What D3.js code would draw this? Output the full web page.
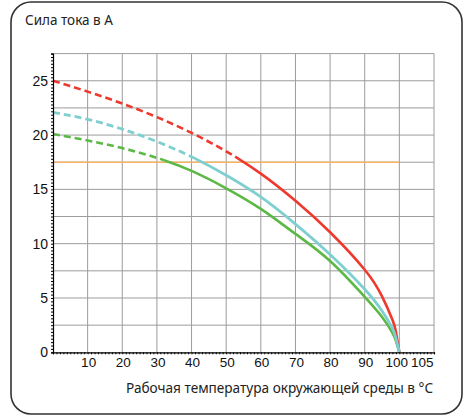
<!DOCTYPE html>
<html><head><meta charset="utf-8">
<script src="https://cdn.jsdelivr.net/npm/d3@7"></script>
<style>
html,body{margin:0;padding:0;background:#fff;}
svg{display:block;}
</style></head>
<body>
<svg id="chart" width="466" height="417"></svg>
<script>
// ---- data ----
const temps   = [0, 10, 20, 30, 40, 50, 60, 70, 80, 90, 95, 98, 99, 100];
const red     = [25, 24.0, 22.9, 21.65, 20.2, 18.5, 16.45, 13.95, 11.05, 7.6, 5.15, 3.0, 1.9, 0];
const cyan    = [22.1, 21.45, 20.55, 19.4, 18.0, 16.3, 14.3, 11.8, 9.0, 5.8, 3.8, 2.2, 1.3, 0];
const green   = [20.1, 19.5, 18.8, 17.9, 16.7, 15.1, 13.2, 10.9, 8.4, 5.1, 3.25, 1.8, 1.05, 0];
const limit   = 17.5;           // horizontal limit line
const limitEnd = 100;
const crossT  = {red: 54, cyan: 41, green: 32};   // where dashed changes to solid
const xTickLabels = [10, 20, 30, 40, 50, 60, 70, 80, 90, 100, 105];
const yTickLabels = [0, 5, 10, 15, 20, 25];
const title  = "Сила тока в А";
const xTitle = "Рабочая температура окружающей среды в °C";

const svg = d3.select("#chart");
const x = d3.scaleLinear().domain([0, 110]).range([53, 434]);
const y = d3.scaleLinear().domain([0, 27.5]).range([352.3, 53.6]);

// frame
svg.append("rect").attr("x", 11).attr("y", 2).attr("width", 451).attr("height", 412)
  .attr("rx", 20).attr("ry", 20).attr("fill", "#fff").attr("stroke", "#333").attr("stroke-width", 1.6);

svg.append("text").attr("x", 25).attr("y", 25).text(title)
  .attr("font-family", "'Noto Sans', sans-serif").attr("font-size", 13.5).attr("fill", "#222");

// grid
const g = svg.append("g");
const vGrid = d3.range(10, 111, 10);
const hGrid = d3.range(2.5, 27.6, 2.5);
g.selectAll("line.v").data(vGrid).join("line")
  .attr("x1", d => x(d)).attr("x2", d => x(d)).attr("y1", y(0)).attr("y2", y(27.5))
  .attr("stroke", "#9c9c9c").attr("stroke-width", 1);
g.selectAll("line.h").data(hGrid).join("line")
  .attr("x1", x(0)).attr("x2", x(110)).attr("y1", d => y(d)).attr("y2", d => y(d))
  .attr("stroke", "#9c9c9c").attr("stroke-width", 1);

// limit line
svg.append("line").attr("x1", x(0)).attr("x2", x(limitEnd)).attr("y1", y(limit)).attr("y2", y(limit))
  .attr("stroke", "#f6b266").attr("stroke-width", 1.6);

// curves: one smooth path, shown dashed left of the crossing and solid right of it (via clips)
const defs = svg.append("defs");
const line = d3.line().x(d => x(d[0])).y(d => y(d[1])).curve(d3.curveNatural);
function drawSeries(name, vals, ct, color, w) {
  const pts = temps.map((t, i) => [t, vals[i]]);
  defs.append("clipPath").attr("id", "cl-" + name).append("rect")
    .attr("x", 0).attr("y", 0).attr("width", x(ct)).attr("height", 417);
  defs.append("clipPath").attr("id", "cr-" + name).append("rect")
    .attr("x", x(ct)).attr("y", 0).attr("width", 466).attr("height", 417);
  const d = line(pts);
  svg.append("path").attr("d", d).attr("fill", "none").attr("stroke", color)
    .attr("stroke-width", w).attr("stroke-dasharray", "7,4").attr("clip-path", `url(#cl-${name})`);
  svg.append("path").attr("d", d).attr("fill", "none").attr("stroke", color)
    .attr("stroke-width", w).attr("clip-path", `url(#cr-${name})`);
}
drawSeries("red", red, crossT.red, "#ee3a2e", 2.6);
drawSeries("green", green, crossT.green, "#5cb946", 2.6);
drawSeries("cyan", cyan, crossT.cyan, "#7fcfd0", 2.8);

// axes
const xMinor = d3.axisBottom(x).tickValues(d3.range(0, 111, 1)).tickSize(2).tickFormat("");
const yMinor = d3.axisLeft(y).tickValues(d3.range(0, 27.51, 0.3125)).tickSize(2).tickFormat("");
const ax = svg.append("g").attr("transform", `translate(0,${y(0)})`).call(xMinor);
const ay = svg.append("g").attr("transform", `translate(${x(0)},0)`).call(yMinor);
[ax, ay].forEach(a => { a.select(".domain").attr("stroke", "#000").attr("stroke-width", 1.2); a.selectAll(".tick line").attr("stroke", "#000"); });

const xl = svg.append("g").attr("transform", `translate(0,${y(0)})`)
  .call(d3.axisBottom(x).tickValues(xTickLabels).tickSize(0).tickPadding(5).tickFormat(d3.format("d")));
xl.select(".domain").remove();
xl.selectAll("text").attr("font-family", "'Liberation Sans', Arial, sans-serif").attr("font-size", 13.5).attr("fill", "#111")
  .attr("dx", d => d === 100 ? -3 : d === 105 ? 5 : 0.5);

const yl = svg.append("g").attr("transform", `translate(${x(0)},0)`)
  .call(d3.axisLeft(y).tickValues(yTickLabels).tickSize(0).tickPadding(5).tickFormat(d3.format("d")));
yl.select(".domain").remove();
yl.selectAll("text").attr("font-family", "'Liberation Sans', Arial, sans-serif").attr("font-size", 14).attr("fill", "#111");

svg.append("text").attr("x", 126).attr("y", 393).text(xTitle)
  .attr("textLength", 307).attr("lengthAdjust", "spacingAndGlyphs")
  .attr("font-family", "'Noto Sans', sans-serif").attr("font-size", 13.5).attr("fill", "#222");
</script>
</body></html>
